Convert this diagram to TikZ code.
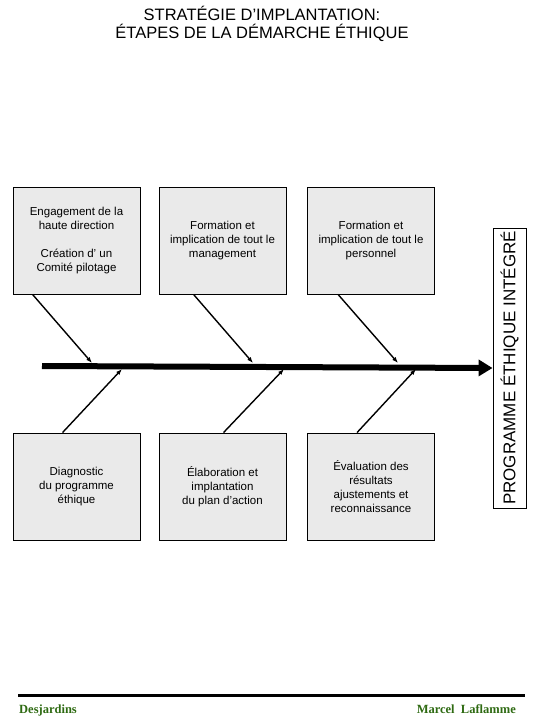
\documentclass[tikz,border=0pt]{standalone}
\usepackage{fontspec}
\setmainfont{Liberation Sans}
\newfontfamily\footfont{Liberation Serif}
\usetikzlibrary{arrows.meta,calc}
\definecolor{boxgray}{HTML}{EAEAEA}
\definecolor{footgreen}{HTML}{2E6A12}
\begin{document}
\begin{tikzpicture}[x=1pt,y=-1pt,
  stagebox/.style={draw, line width=0.9pt, fill=boxgray, minimum width=127pt, minimum height=107pt,
     align=center, inner sep=0pt, font=\fontsize{11.5}{14}\selectfont},
  branch/.style={line width=1.4pt, -{Latex[length=6pt,width=4.5pt]}},
  spine/.style={line width=6pt, -{Triangle[length=14pt,width=16pt]}}
]
\useasboundingbox (0,0) rectangle (540,720);
% title
\node[align=center, font=\fontsize{16.5}{18}\selectfont, anchor=north] (title) at (262,3)
  {STRATÉGIE D’IMPLANTATION:\\ÉTAPES DE LA DÉMARCHE ÉTHIQUE};
% top boxes
\node[stagebox] (b1) at (76.5,240.5) {Engagement de la\\haute direction\\[14pt]Création d’ un\\Comité pilotage};
\node[stagebox] (b2) at (222.5,240.5) {Formation et\\implication de tout le\\management};
\node[stagebox] (b3) at (371,240.5) {Formation et\\implication de tout le\\personnel};
% bottom boxes
\node[stagebox] (c1) at (76.5,486.5) {Diagnostic\\du programme\\éthique};
\node[stagebox] (c2) at (222.5,486.5) {Élaboration et\\implantation\\du plan d’action};
\node[stagebox] (c3) at (371,486.5) {Évaluation des\\résultats\\ajustements et\\reconnaissance};
% right box
\node[draw, line width=0.9pt, fill=white, minimum width=280pt, minimum height=33pt, inner sep=0pt,
  rotate=90, font=\fontsize{17}{18}\selectfont] (prog) at (509.5,368) {PROGRAMME ÉTHIQUE INTÉGRÉ};
% spine
\coordinate (s0) at (42,366);
\draw[spine] (s0) -- (prog.north);
% branch end points on the spine
\coordinate (t1) at (92,363);
\coordinate (t2) at (253,363);
\coordinate (t3) at (398,363);
\coordinate (u1) at (122,369);
\coordinate (u2) at (284,369);
\coordinate (u3) at (416,369);
\draw[branch] ($(b1.south west)+(20,0)$) -- (t1);
\draw[branch] ($(b2.south west)+(35,0)$) -- (t2);
\draw[branch] ($(b3.south west)+(31,0)$) -- (t3);
\draw[branch] ($(c1.north west)+(50,0)$) -- (u1);
\draw[branch] ($(c2.north west)+(65,0)$) -- (u2);
\draw[branch] ($(c3.north west)+(50,0)$) -- (u3);
% footer
\coordinate (fl) at (18,695.5);
\coordinate (fr) at (525,695.5);
\draw[line width=3pt] (fl) -- (fr);
\node[anchor=base west, text=footgreen, font=\footfont\bfseries\fontsize{12.5}{14}\selectfont, inner sep=0pt] (desj) at (19,713) {Desjardins};
\node[anchor=base east, text=footgreen, font=\footfont\bfseries\fontsize{12.5}{14}\selectfont, inner sep=0pt] (auth) at (516,713) {Marcel\ \ Laflamme};
\end{tikzpicture}
\end{document}
